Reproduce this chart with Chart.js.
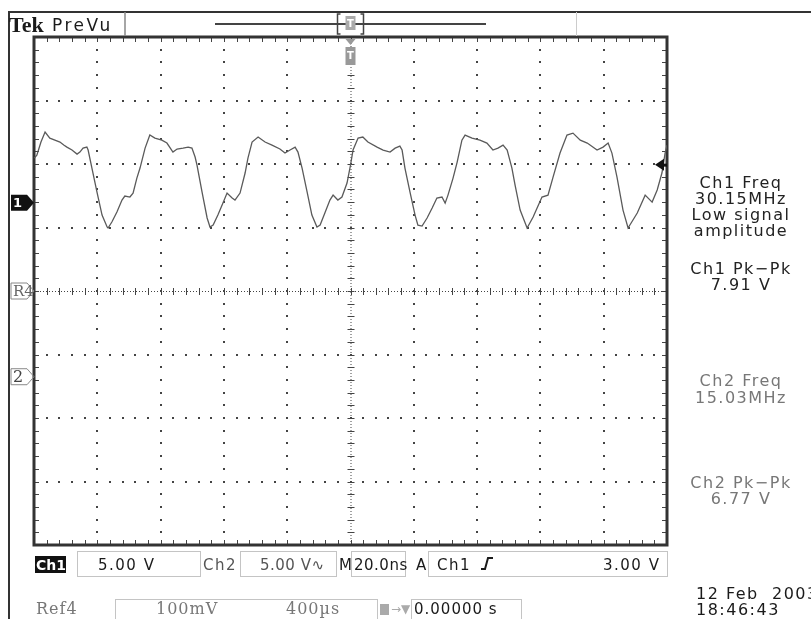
<!DOCTYPE html>
<html>
<head>
<meta charset="utf-8">
<script src="https://cdn.jsdelivr.net/npm/chart.js@4.4.0/dist/chart.umd.min.js"></script>
<style>
  html, body { margin: 0; background: #fff; }
  canvas { display: block; }
</style>
</head>
<body>
<canvas id="scope" width="811" height="619"></canvas>
<script>
// Ch1 trace: time from trigger (ns) and voltage (V)
var timeNs = [-99.9, -99.1, -97.8, -96.5, -95.0, -93.4, -91.8, -90.6, -89.6, -88.0,
  -86.4, -85.5, -84.5, -83.3, -82.9, -81.7, -80.1, -78.5, -76.9, -76.6,
  -75.4, -73.8, -72.2, -71.3, -69.7, -68.7, -67.5, -66.5, -64.9, -63.4,
  -61.8, -59.6, -58.0, -56.1, -54.8, -52.9, -51.3, -50.1, -49.1, -48.5,
  -46.9, -45.3, -44.4, -43.4, -41.9, -40.3, -39.0, -37.4, -36.5, -34.9,
  -33.3, -32.4, -31.1, -29.2, -27.0, -24.8, -22.3, -20.7, -19.1, -17.5,
  -16.6, -15.3, -13.7, -12.2, -10.6, -9.6, -8.1, -6.5, -5.5, -4.0,
  -2.7, -1.1, 0, 0.8, 2.4, 3.9, 5.5, 8.4, 10.3, 12.5,
  14.1, 15.6, 16.3, 17.2, 18.8, 20.4, 21.3, 22.6, 24.2, 25.8,
  27.3, 28.9, 29.9, 30.8, 32.4, 33.7, 35.2, 36.2, 38.4, 40.9,
  43.1, 45.0, 46.6, 48.2, 49.5, 51.0, 52.0, 53.6, 55.8, 57.7,
  60.5, 62.4, 64.0, 66.2, 68.4, 70.3, 72.6, 74.8, 77.9, 79.8,
  81.4, 82.6, 84.2, 86.1, 87.7, 90.6, 93.1, 95.3, 96.9, 98.4,
  99.4, 100];
var ch1Volts = [3.52, 3.75, 4.78, 5.56, 5.09, 4.93, 4.78, 4.54, 4.38, 4.15,
  3.83, 3.99, 4.30, 4.38, 4.15, 2.73, 0.84, -0.97, -1.91, -1.99,
  -1.52, -0.73, 0.21, 0.53, 0.45, 0.76, 1.94, 2.73, 4.30, 5.33,
  5.09, 4.93, 4.70, 3.99, 4.23, 4.30, 4.38, 4.30, 3.60, 2.97,
  0.84, -1.20, -1.91, -1.76, -0.97, -0.03, 0.76, 0.37, 0.21, 0.76,
  2.34, 3.52, 4.78, 5.17, 4.78, 4.54, 4.23, 3.91, 4.15, 4.38,
  3.99, 2.73, 0.84, -0.97, -1.91, -1.76, -0.81, 0.21, 0.60, 0.21,
  0.45, 1.55, 2.97, 4.15, 5.09, 5.17, 4.78, 4.38, 4.15, 3.99,
  4.30, 4.46, 4.15, 2.73, 0.84, -0.97, -1.76, -1.84, -1.20, -0.42,
  0.37, 0.45, -0.03, 0.60, 1.94, 3.20, 4.93, 5.33, 5.09, 4.93,
  4.70, 4.15, 4.30, 4.54, 4.15, 2.73, 1.39, -0.58, -1.99, -1.13,
  0.45, 0.60, 2.02, 3.91, 5.33, 5.48, 4.93, 4.70, 4.15, 4.38,
  4.70, 3.91, 2.02, -0.58, -1.99, -0.81, 0.60, 0.05, 1.00, 2.34,
  3.91, 4.54];

// scope settings
var voltsPerDiv = 5;
var nsPerDiv = 20;
var ch1Offset = 1.39;   // divisions above centre
var ch2Offset = -1.35;
var trigLevel = 3.0;

// measurement readouts on the right
var readLines = ['Ch1 Freq', '30.15MHz', 'Low signal', 'amplitude', 'Ch1 Pk\u2212Pk', '7.91 V',
  'Ch2 Freq', '15.03MHz', 'Ch2 Pk\u2212Pk', '6.77 V'];
var readY = [188, 204, 220, 236, 274, 290, 386, 403, 488, 504];
var readColor = ['#222', '#222', '#222', '#222', '#222', '#222', '#777', '#777', '#777', '#777'];

var points = timeNs.map(function (t, i) { return { x: t, y: ch1Volts[i] }; });

function sans(px) { return px + 'px "DejaVu Sans"'; }

var graticule = {
  id: 'graticule',
  beforeDatasetsDraw: function (chart) {
    var ctx = chart.ctx, xs = chart.scales.x, ys = chart.scales.y;
    var gx = [], gy = [], i, j, k, x, y;
    for (i = 0; i <= 10; i++) gx.push(xs.getPixelForValue(-5 * nsPerDiv + i * nsPerDiv));
    for (j = 0; j <= 8; j++) gy.push(ys.getPixelForValue((4 - j - ch1Offset) * voltsPerDiv));
    var sx = (gx[10] - gx[0]) / 50, sy = (gy[8] - gy[0]) / 40;
    ctx.save();
    ctx.fillStyle = '#444';
    for (i = 1; i < 10; i++) {
      if (i === 5) continue;
      for (k = 1; k < 40; k++) ctx.fillRect(Math.round(gx[i]) - 1, Math.round(gy[0] + k * sy) - 1, 2, 2);
    }
    for (j = 1; j < 8; j++) {
      if (j === 4) continue;
      for (k = 1; k < 50; k++) ctx.fillRect(Math.round(gx[0] + k * sx) - 1, Math.round(gy[j]) - 1, 2, 2);
    }
    // centre cross
    var cx = gx[5], cy = gy[4];
    ctx.strokeStyle = '#444';
    ctx.lineWidth = 1;
    ctx.setLineDash([1, 2]);
    ctx.beginPath();
    ctx.moveTo(gx[0], cy + 0.5); ctx.lineTo(gx[10], cy + 0.5);
    ctx.moveTo(cx + 0.5, gy[0]); ctx.lineTo(cx + 0.5, gy[8]);
    ctx.stroke();
    ctx.setLineDash([]);
    ctx.beginPath();
    for (k = 1; k < 50; k++) { x = Math.round(gx[0] + k * sx) + 0.5; ctx.moveTo(x, cy - 3); ctx.lineTo(x, cy + 4); }
    for (k = 1; k < 40; k++) { y = Math.round(gy[0] + k * sy) + 0.5; ctx.moveTo(cx - 3, y); ctx.lineTo(cx + 4, y); }
    // border ticks
    for (k = 1; k < 50; k++) {
      x = Math.round(gx[0] + k * sx) + 0.5;
      ctx.moveTo(x, gy[0]); ctx.lineTo(x, gy[0] + 5);
      ctx.moveTo(x, gy[8]); ctx.lineTo(x, gy[8] - 5);
    }
    for (k = 1; k < 40; k++) {
      y = Math.round(gy[0] + k * sy) + 0.5;
      ctx.moveTo(gx[0], y); ctx.lineTo(gx[0] + 5, y);
      ctx.moveTo(gx[10], y); ctx.lineTo(gx[10] - 5, y);
    }
    ctx.stroke();
    ctx.strokeStyle = '#333';
    ctx.lineWidth = 3;
    ctx.strokeRect(gx[0], gy[0], gx[10] - gx[0], gy[8] - gy[0]);
    ctx.restore();
  }
};

function marker(ctx, y, fill, label, font, color) {
  ctx.beginPath();
  ctx.moveTo(11, y - 8); ctx.lineTo(27, y - 8); ctx.lineTo(34, y);
  ctx.lineTo(27, y + 8); ctx.lineTo(11, y + 8); ctx.closePath();
  if (fill) { ctx.fillStyle = '#111'; ctx.fill(); }
  else { ctx.strokeStyle = '#888'; ctx.lineWidth = 1; ctx.stroke(); }
  ctx.fillStyle = color;
  ctx.font = font;
  ctx.textAlign = 'left';
  ctx.textBaseline = 'middle';
  ctx.fillText(label, 13, y + 1);
}

var panel = {
  id: 'panel',
  afterDraw: function (chart) {
    var ctx = chart.ctx, xs = chart.scales.x, ys = chart.scales.y, a = chart.chartArea;
    ctx.save();
    // outer frame
    ctx.strokeStyle = '#333';
    ctx.lineWidth = 2;
    ctx.beginPath();
    ctx.moveTo(8, 12); ctx.lineTo(811, 12);
    ctx.moveTo(9, 12); ctx.lineTo(9, 619);
    ctx.stroke();
    ctx.strokeStyle = '#888';
    ctx.lineWidth = 1.5;
    ctx.beginPath();
    ctx.moveTo(125, 12); ctx.lineTo(125, 36);
    ctx.stroke();
    ctx.strokeStyle = '#ccc';
    ctx.lineWidth = 1;
    ctx.beginPath();
    ctx.moveTo(576.5, 12); ctx.lineTo(576.5, 36);
    ctx.stroke();

    // header text
    ctx.fillStyle = '#1a1a1a';
    ctx.textBaseline = 'alphabetic';
    ctx.font = 'bold 22px "Liberation Serif"';
    ctx.fillText('Tek', 9, 32);
    ctx.font = sans(17);
    ctx.letterSpacing = '2.5px';
    ctx.fillText('PreVu', 52, 31);
    ctx.letterSpacing = '0px';

    // record view bar with trigger bracket
    var tx = xs.getPixelForValue(0);
    ctx.strokeStyle = '#444';
    ctx.lineWidth = 2;
    ctx.beginPath();
    ctx.moveTo(215, 24); ctx.lineTo(486, 24);
    ctx.stroke();
    ctx.lineWidth = 1.5;
    ctx.beginPath();
    ctx.moveTo(tx - 10, 14); ctx.lineTo(tx - 13, 14); ctx.lineTo(tx - 13, 34); ctx.lineTo(tx - 10, 34);
    ctx.moveTo(tx + 10, 14); ctx.lineTo(tx + 13, 14); ctx.lineTo(tx + 13, 34); ctx.lineTo(tx + 10, 34);
    ctx.stroke();
    ctx.fillStyle = '#aaa';
    ctx.fillRect(tx - 5, 16, 10, 14);
    ctx.fillStyle = '#fff';
    ctx.font = 'bold 10px "DejaVu Sans"';
    ctx.textAlign = 'center';
    ctx.fillText('T', tx, 27);

    // trigger position marker under the frame top
    ctx.fillStyle = '#999';
    ctx.beginPath();
    ctx.moveTo(tx - 5, a.top + 2); ctx.lineTo(tx + 5, a.top + 2); ctx.lineTo(tx, a.top + 8); ctx.closePath();
    ctx.fill();
    ctx.fillRect(tx - 5, a.top + 10, 10, 18);
    ctx.fillStyle = '#fff';
    ctx.fillText('T', tx, a.top + 22);

    // trigger level arrow on the right
    var ty = ys.getPixelForValue(trigLevel);
    ctx.fillStyle = '#111';
    ctx.beginPath();
    ctx.moveTo(a.right - 12, ty); ctx.lineTo(a.right - 3, ty - 6); ctx.lineTo(a.right - 3, ty + 6); ctx.closePath();
    ctx.fill();
    ctx.fillRect(a.right - 4, ty - 1, 4, 3);

    // channel markers on the left
    marker(ctx, ys.getPixelForValue(0), true, '1', 'bold 13px "DejaVu Sans"', '#fff');
    marker(ctx, ys.getPixelForValue((0 - ch1Offset) * voltsPerDiv), false, 'R4', '15px "DejaVu Serif"', '#666');
    marker(ctx, ys.getPixelForValue((ch2Offset - ch1Offset) * voltsPerDiv), false, '2', '16px "DejaVu Serif"', '#444');

    // readouts
    ctx.textAlign = 'center';
    ctx.textBaseline = 'alphabetic';
    ctx.font = sans(16);
    ctx.letterSpacing = '1.5px';
    readLines.forEach(function (s, i) {
      ctx.fillStyle = readColor[i];
      ctx.fillText(s, 741, readY[i]);
    });

    // bottom status row
    ctx.textAlign = 'left';
    ctx.fillStyle = '#111';
    ctx.fillRect(35, 556, 31, 17);
    ctx.fillStyle = '#fff';
    ctx.letterSpacing = '0px';
    ctx.font = 'bold 14px "DejaVu Sans"';
    ctx.fillText('Ch1', 36, 570);

    ctx.strokeStyle = '#888';
    ctx.lineWidth = 1;
    ctx.setLineDash([1, 1]);
    ctx.strokeRect(77.5, 551.5, 123, 25);
    ctx.strokeRect(240.5, 551.5, 96, 25);
    ctx.strokeRect(351.5, 551.5, 54, 25);
    ctx.strokeRect(428.5, 551.5, 239, 25);
    ctx.strokeRect(115.5, 599.5, 262, 25);
    ctx.strokeRect(411.5, 599.5, 110, 25);
    ctx.setLineDash([]);

    ctx.font = sans(15);
    ctx.letterSpacing = '1.5px';
    ctx.fillStyle = '#1a1a1a';
    ctx.fillText('5.00 V', 98, 570);
    ctx.fillStyle = '#555';
    ctx.fillText('Ch2', 203, 570);
    ctx.letterSpacing = '0.5px';
    ctx.fillText('5.00 V\u223f', 260, 570);
    ctx.fillStyle = '#1a1a1a';
    ctx.fillText('M', 339, 570);
    ctx.fillText('20.0ns', 354, 570);
    ctx.letterSpacing = '1.5px';
    ctx.fillText('A', 416, 570);
    ctx.fillText('Ch1', 437, 570);
    ctx.fillText('3.00 V', 603, 570);
    // rising edge symbol
    ctx.strokeStyle = '#1a1a1a';
    ctx.lineWidth = 2;
    ctx.beginPath();
    ctx.moveTo(481, 569); ctx.lineTo(485, 569); ctx.lineTo(488, 558); ctx.lineTo(493, 558);
    ctx.stroke();

    ctx.font = '16px "DejaVu Serif"';
    ctx.letterSpacing = '1px';
    ctx.fillStyle = '#777';
    ctx.fillText('Ref4', 36, 614);
    ctx.fillText('100mV', 156, 614);
    ctx.fillText('400\u00b5s', 286, 614);
    ctx.fillStyle = '#aaa';
    ctx.fillRect(380, 604, 9, 11);
    ctx.font = sans(12);
    ctx.letterSpacing = '0px';
    ctx.fillText('\u2192\u25bc', 391, 613);
    ctx.font = sans(15);
    ctx.letterSpacing = '1px';
    ctx.fillStyle = '#1a1a1a';
    ctx.fillText('0.00000 s', 414, 614);

    // date
    ctx.font = sans(16);
    ctx.letterSpacing = '1.5px';
    ctx.fillText('12 Feb  2003', 696, 599);
    ctx.fillText('18:46:43', 696, 615);
    ctx.restore();
  }
};

var ctx = document.getElementById('scope').getContext('2d');
var scopeChart = new Chart(ctx, {
  type: 'line',
  data: {
    datasets: [{
      data: points,
      borderColor: '#5a5a5a',
      borderWidth: 1.3,
      pointRadius: 0,
      tension: 0
    }]
  },
  options: {
    responsive: false,
    animation: false,
    devicePixelRatio: 1,
    layout: { padding: { left: 34, top: 37, right: 144, bottom: 74 } },
    plugins: { legend: { display: false }, tooltip: { enabled: false } },
    scales: {
      x: { type: 'linear', display: false, min: -5 * nsPerDiv, max: 5 * nsPerDiv },
      y: { display: false, min: (-4 - ch1Offset) * voltsPerDiv, max: (4 - ch1Offset) * voltsPerDiv }
    }
  },
  plugins: [graticule, panel]
});
</script>
</body>
</html>
